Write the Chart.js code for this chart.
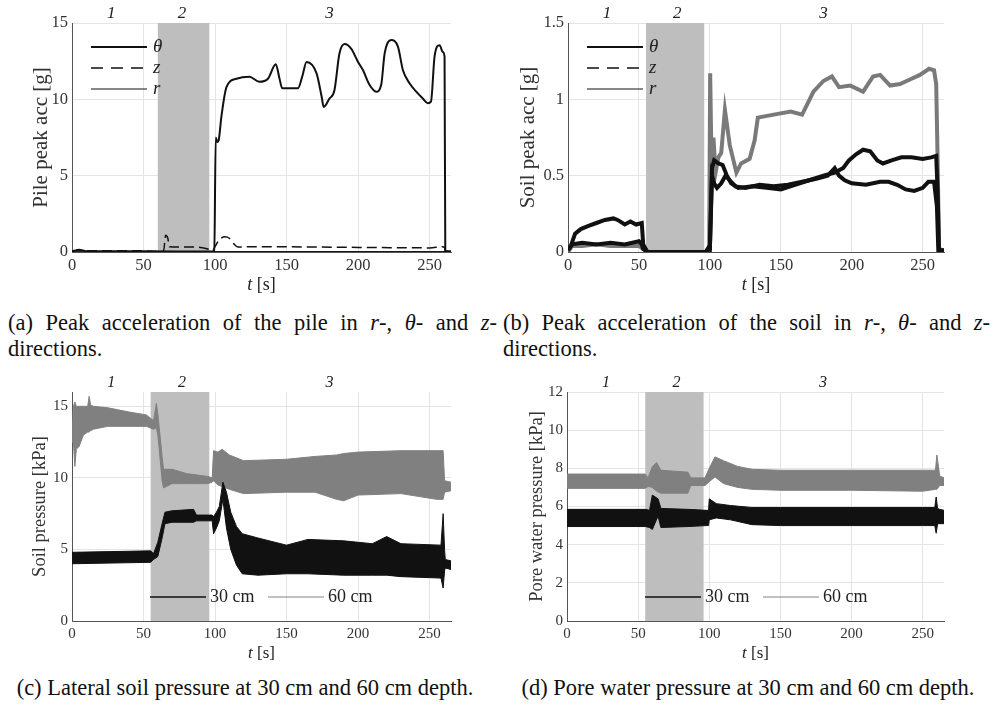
<!DOCTYPE html>
<html>
<head>
<meta charset="utf-8">
<script src="https://cdn.jsdelivr.net/npm/chart.js@4.4.1/dist/chart.umd.min.js"></script>
<style>
  body { margin: 0; background: #fff; width: 994px; height: 706px; position: relative; overflow: hidden; font-family: "Liberation Serif", "Times New Roman", Times, serif; color: #111; }
  canvas { position: absolute; }
  .cap { position: absolute; font-size: 22.5px; line-height: 26px; }
  .just { text-align: justify; text-align-last: justify; }
  .ctr { text-align: center; }
</style>
</head>
<body>
<canvas id="ca" width="497" height="300" style="left:0;top:0"></canvas>
<canvas id="cb" width="497" height="300" style="left:497px;top:0"></canvas>
<canvas id="cc" width="497" height="300" style="left:0;top:369px"></canvas>
<canvas id="cd" width="497" height="300" style="left:497px;top:369px"></canvas>

<div class="cap just" style="left:8px;top:310px;width:489px">(a) Peak acceleration of the pile in <i>r</i>-, <i>θ</i>- and <i>z</i>-</div>
<div class="cap" style="left:8px;top:336px">directions.</div>
<div class="cap just" style="left:503px;top:310px;width:487px">(b) Peak acceleration of the soil in <i>r</i>-, <i>θ</i>- and <i>z</i>-</div>
<div class="cap" style="left:503px;top:336px">directions.</div>
<div class="cap ctr" style="left:0;top:675px;width:490px">(c) Lateral soil pressure at 30 cm and 60 cm depth.</div>
<div class="cap ctr" style="left:500px;top:675px;width:496px">(d) Pore water pressure at 30 cm and 60 cm depth.</div>

<script>
// ---- common axes / annotations
const xTicks = [0, 50, 100, 150, 200, 250];
const phaseLabels = ['1', '2', '3'];
const phaseT = [27.5, 77, 180];

// ---- (a) pile peak acceleration [g]
const yTicksA = [0, 5, 10, 15];
const shadeA = [60, 96];
const pileThetaT = [0, 5, 10, 50, 98, 99.5, 100.5, 101.5, 102.5, 104.5, 108, 115, 124, 131, 137, 142.5, 145, 147, 158, 161,
  164, 171, 174.5, 176, 180, 183.5, 187, 190.6, 195.3, 200, 203.5, 208, 212.8, 216.2, 218.6, 223.2, 227.9, 231.4, 236, 240.7,
  245.3, 248.8, 251, 253.5, 257, 259.3, 260.5, 261, 262, 265];
const pileTheta = [0.05, 0.15, 0.05, 0.05, 0.03, 0.05, 7.5, 7.2, 7.3, 8.9, 10.8, 11.35, 11.48, 11.15, 11.35, 12.3, 11.4, 10.72, 10.72, 11.5,
  12.45, 11.7, 10.2, 9.5, 10.05, 10.6, 13.0, 13.62, 13.3, 12.45, 11.9, 10.95, 10.5, 10.95, 13.0, 13.88, 13.45, 11.9, 11.05, 10.5,
  10.05, 9.75, 9.85, 12.8, 13.55, 13.1, 12.8, 0.1, 0.05, 0.05];
const pileZT = [0, 50, 60, 64, 65.5, 67, 68, 85, 95, 98, 100, 103, 107, 110, 113, 116, 130, 200, 250, 259, 260.5, 261, 265];
const pileZ = [0.08, 0.08, 0.03, 0.05, 1.1, 0.9, 0.35, 0.33, 0.2, 0.05, 0.35, 0.8, 1.0, 0.9, 0.55, 0.33, 0.35, 0.3, 0.27, 0.35, 0.3, 0.05, 0.05];
const pileRT = [0, 100, 261, 265];
const pileR = [0.02, 0.03, 0.03, 0.02];

// ---- (b) soil peak acceleration [g]
const yTicksB = [0, 0.5, 1, 1.5];
const shadeB = [55, 96];
const soilThetaT = [0, 2, 5, 9, 14, 20, 26, 32, 35, 40, 44, 48, 52, 53, 56, 97, 99, 100, 101.5, 103,
  106, 109, 112, 115, 120, 130, 140, 150, 160, 170, 180, 188, 194, 198, 203, 208, 213, 218, 222, 228,
  235, 242, 250, 256, 259.5, 260.5, 261.5, 265];
const soilTheta = [0.02, 0.04, 0.12, 0.15, 0.17, 0.19, 0.21, 0.22, 0.21, 0.18, 0.2, 0.18, 0.19, 0.05, 0.0, 0.0, 0.03, 0.02, 0.55, 0.6,
  0.58, 0.57, 0.5, 0.45, 0.42, 0.43, 0.42, 0.41, 0.44, 0.47, 0.5, 0.52, 0.55, 0.6, 0.64, 0.67, 0.66, 0.6, 0.58, 0.6,
  0.62, 0.62, 0.61, 0.62, 0.63, 0.4, 0.01, 0.01];
const soilZT = [0, 3, 10, 20, 30, 40, 50, 52, 53, 56, 97, 100, 101.5, 103, 105, 108, 111, 114, 118, 125,
  135, 145, 155, 165, 175, 183, 188, 191, 195, 200, 210, 220, 226, 232, 238, 244, 250, 254, 258, 260, 261, 265];
const soilZ = [0.01, 0.05, 0.06, 0.05, 0.06, 0.05, 0.07, 0.05, 0.02, 0.0, 0.0, 0.02, 0.5, 0.45, 0.42, 0.45, 0.5, 0.47, 0.43, 0.42,
  0.44, 0.43, 0.44, 0.46, 0.48, 0.5, 0.55, 0.5, 0.47, 0.45, 0.44, 0.46, 0.46, 0.44, 0.41, 0.4, 0.42, 0.46, 0.46, 0.3, 0.01, 0.01];
const soilRT = [0, 3, 10, 20, 30, 40, 50, 53, 56, 97, 99.5, 100.2, 101.3, 102.5, 104, 106, 108, 110.6, 114, 118.7,
  122, 128, 131.5, 133.8, 145, 157, 165, 173, 180, 186, 191, 199, 208, 215, 220, 227, 234, 241, 248, 254.5,
  258, 259.5, 260.5, 261.5, 265];
const soilR = [0.0, 0.04, 0.04, 0.05, 0.04, 0.04, 0.04, 0.02, 0.0, 0.0, 0.03, 1.17, 0.49, 0.75, 0.52, 0.62, 0.65, 0.93, 0.7, 0.52,
  0.58, 0.61, 0.73, 0.88, 0.9, 0.92, 0.9, 1.05, 1.12, 1.15, 1.08, 1.09, 1.05, 1.15, 1.16, 1.09, 1.1, 1.13, 1.16, 1.2,
  1.19, 1.1, 0.6, 0.02, 0.01];

// ---- (c) lateral soil pressure [kPa], noisy signals as upper / lower envelope
const yTicksC = [0, 5, 10, 15];
const shadeC = [55, 96];
const sp30T = [0, 55, 57, 60, 63, 65, 70, 85, 87, 98, 99, 101, 103, 105.5, 108, 111, 115, 119, 130, 150,
  165, 190, 210, 220, 230, 258, 259.5, 260.5, 261, 265];
const sp30Hi = [4.8, 4.9, 4.7, 5.5, 6.8, 7.6, 7.7, 7.8, 7.4, 7.4, 7.3, 7.6, 8.0, 9.7, 9.0, 7.6, 6.6, 6.1, 5.8, 5.3,
  5.7, 5.6, 5.4, 5.9, 5.4, 5.3, 7.5, 5.0, 4.3, 4.2];
const sp30Lo = [4.0, 4.1, 4.3, 4.5, 5.8, 6.8, 6.9, 6.9, 7.0, 7.0, 6.1, 6.5, 7.0, 8.5, 6.5, 5.0, 3.9, 3.3, 3.2, 3.3,
  3.3, 3.2, 3.2, 3.2, 3.1, 3.0, 2.3, 3.5, 3.7, 3.6];
const sp60T = [0, 1, 2, 3, 5, 8, 11, 12, 13, 15, 25, 40, 52, 57, 59, 60, 61, 63, 64, 70,
  80, 95, 98, 99, 102, 105, 110, 120, 150, 170, 185, 190, 200, 230, 255, 259.5, 260.5, 265];
const sp60Hi = [12.8, 15.0, 15.3, 15.0, 15.0, 15.0, 15.0, 15.7, 15.1, 15.0, 14.9, 14.6, 14.4, 14.0, 15.2, 14.5, 13.5, 11.5, 10.6, 10.6,
  10.3, 10.1, 10.0, 11.9, 11.8, 12.0, 11.6, 11.2, 11.3, 11.5, 11.6, 11.7, 11.8, 11.9, 11.9, 11.9, 9.8, 9.7];
const sp60Lo = [12.5, 12.5, 10.8, 12.0, 12.2, 13.0, 13.2, 13.2, 13.3, 13.4, 13.6, 13.6, 13.6, 13.4, 13.5, 13.0, 12.0, 9.8, 9.3, 9.6,
  9.6, 9.6, 9.7, 9.8, 9.5, 9.4, 9.2, 8.9, 9.0, 9.0, 8.5, 8.4, 8.8, 8.9, 8.5, 8.5, 9.0, 9.1];

// ---- (d) pore water pressure [kPa]
const yTicksD = [0, 2, 4, 6, 8, 10, 12];
const shadeD = [55, 96];
const pw30T = [0, 55, 58, 60, 64, 66, 85, 98, 99.5, 100, 105, 115, 130, 150, 250, 258.5, 259.5, 260.5, 262, 265];
const pw30Hi = [5.85, 5.85, 5.8, 6.6, 6.4, 5.9, 5.85, 5.8, 5.8, 6.4, 6.15, 6.05, 5.95, 5.95, 5.95, 5.95, 6.5, 5.9, 5.85, 5.8];
const pw30Lo = [4.95, 4.95, 4.9, 4.8, 5.5, 4.9, 4.95, 5.0, 5.0, 5.3, 5.4, 5.3, 5.05, 5.0, 5.0, 5.0, 4.6, 5.1, 5.1, 5.1];
const pw60T = [0, 55, 57, 60, 63, 66, 85, 87, 97, 100, 104, 110, 120, 130, 150, 200, 250, 259, 260, 262, 265];
const pw60Hi = [7.7, 7.7, 7.5, 8.1, 8.3, 7.9, 7.8, 7.5, 7.5, 8.0, 8.6, 8.4, 8.1, 7.95, 7.9, 7.9, 7.9, 7.9, 8.7, 7.6, 7.5];
const pw60Lo = [6.95, 6.95, 7.05, 7.0, 6.8, 6.7, 6.7, 7.1, 7.1, 7.3, 7.55, 7.2, 7.0, 6.9, 6.85, 6.85, 6.8, 6.9, 6.9, 7.1, 7.1];

const BLACK = '#111111';
const GREY = '#808080';
const SERIF = '"Liberation Serif", "Times New Roman", Times, serif';
Chart.defaults.font.family = SERIF;

// top row figures were scaled larger than the bottom row
const FONT_TOP = { tick: 16.5, title: 21, xt: 18, phase: 17, leg: 19 };
const FONT_BOT = { tick: 15, title: 18.5, xt: 17, phase: 16, leg: 18 };

const pts = (t, v) => t.map((x, i) => ({ x: x, y: v[i] }));

function line(label, t, v, color, width, dash, smooth) {
  return { label: label, data: pts(t, v), borderColor: color, borderWidth: width, borderDash: dash || [], fill: false,
    cubicInterpolationMode: smooth ? 'monotone' : 'default' };
}
// upper + lower envelope, filled in between
function band(label, t, hi, lo, color) {
  return [
    { label: label, data: pts(t, hi), borderColor: color, backgroundColor: color, borderWidth: 1, fill: '+1' },
    { label: '', data: pts(t, lo), borderColor: color, borderWidth: 1, fill: false }
  ];
}

const decor = {
  id: 'decor',
  beforeDatasetsDraw(chart, args, o) {
    const { ctx, chartArea: a, scales: { x } } = chart;
    const x0 = x.getPixelForValue(o.shade[0]);
    const x1 = x.getPixelForValue(o.shade[1]);
    ctx.save();
    ctx.fillStyle = '#bebebe';
    ctx.fillRect(x0, a.top, x1 - x0, a.bottom - a.top);
    ctx.restore();
  },
  afterDraw(chart, args, o) {
    const { ctx, chartArea: a, scales: { x } } = chart;
    const f = o.fs;
    ctx.save();
    ctx.fillStyle = '#222';
    // phase numbers on top
    ctx.font = 'italic ' + f.phase + 'px ' + SERIF;
    ctx.textAlign = 'center';
    ctx.textBaseline = 'middle';
    phaseLabels.forEach((s, i) => ctx.fillText(s, x.getPixelForValue(phaseT[i]), a.top - 9));

    // x title  "t [s]"
    const cx = (a.left + a.right) / 2, ty = a.bottom + 33;
    ctx.font = 'italic ' + f.xt + 'px ' + SERIF;
    const w1 = ctx.measureText('t').width;
    ctx.font = f.xt + 'px ' + SERIF;
    const w2 = ctx.measureText(' [s]').width;
    ctx.textAlign = 'left';
    ctx.font = 'italic ' + f.xt + 'px ' + SERIF;
    ctx.fillText('t', cx - (w1 + w2) / 2, ty);
    ctx.font = f.xt + 'px ' + SERIF;
    ctx.fillText(' [s]', cx - (w1 + w2) / 2 + w1, ty);

    // legend
    const L = o.legend;
    ctx.textAlign = 'left';
    L.items.forEach((it, i) => {
      let x0, y;
      if (L.inside) { x0 = a.left + 19; y = a.top + 24 + i * 21; }
      else { x0 = a.left + 78 + i * 118; y = a.bottom - 24; }
      ctx.strokeStyle = it.color;
      ctx.lineWidth = it.width;
      ctx.setLineDash(it.dash || []);
      ctx.beginPath();
      ctx.moveTo(x0, y);
      ctx.lineTo(x0 + 56, y);
      ctx.stroke();
      ctx.setLineDash([]);
      ctx.font = (L.inside ? 'italic ' : '') + f.leg + 'px ' + SERIF;
      ctx.fillStyle = '#222';
      ctx.fillText(it.label, x0 + (L.inside ? 62 : 60), y);
    });
    ctx.restore();
  }
};

function makeChart(id, datasets, o) {
  const tickFont = { family: SERIF, size: o.fs.tick };
  return new Chart(document.getElementById(id), {
    type: 'line',
    data: { datasets: datasets },
    options: {
      responsive: false,
      animation: false,
      events: [],
      layout: { padding: { left: o.padL, right: o.padR, top: 23, bottom: 0 } },
      elements: { point: { radius: 0 }, line: { tension: 0 } },
      plugins: {
        legend: { display: false },
        tooltip: { enabled: false },
        decor: { shade: o.shade, legend: o.legend, fs: o.fs }
      },
      scales: {
        x: {
          type: 'linear', min: 0, max: 265,
          afterBuildTicks: s => { s.ticks = xTicks.map(v => ({ value: v })); },
          afterFit: s => { s.height = 48; },
          grid: { color: '#e4e4e4', drawTicks: false },
          border: { color: '#555' },
          ticks: { padding: 4, font: tickFont, color: '#333', maxRotation: 0, autoSkip: false, callback: v => String(v) }
        },
        y: {
          type: 'linear', min: 0, max: o.yMax,
          afterBuildTicks: s => { s.ticks = o.yTicks.map(v => ({ value: v })); },
          afterFit: s => { s.width = o.yW; },
          grid: { color: '#e4e4e4', drawTicks: false },
          border: { color: '#555' },
          ticks: { padding: 4, font: tickFont, color: '#333', autoSkip: false, callback: v => String(v) },
          title: { display: true, text: o.yTitle, color: '#333', font: { family: SERIF, size: o.fs.title }, padding: { top: o.tPad, bottom: 0 } }
        }
      }
    },
    plugins: [decor]
  });
}

makeChart('ca', [
  line('θ', pileThetaT, pileTheta, BLACK, 2, null, true),
  line('z', pileZT, pileZ, BLACK, 1.5, [10, 5], true),
  line('r', pileRT, pileR, BLACK, 1)
], {
  padL: 26, tPad: 2.4, yW: 46, padR: 46, yMax: 15, yTicks: yTicksA, shade: shadeA, yTitle: 'Pile peak acc [g]', fs: FONT_TOP,
  legend: { inside: true, items: [
    { label: 'θ', color: BLACK, width: 2 },
    { label: 'z', color: BLACK, width: 1.5, dash: [12, 8] },
    { label: 'r', color: BLACK, width: 1 }
  ] }
});

makeChart('cb', [
  line('θ', soilThetaT, soilTheta, BLACK, 4),
  line('z', soilZT, soilZ, BLACK, 4),
  line('r', soilRT, soilR, '#7a7a7a', 4)
], {
  padL: 18, tPad: 1, yW: 53, padR: 50, yMax: 1.5, yTicks: yTicksB, shade: shadeB, yTitle: 'Soil peak acc [g]', fs: FONT_TOP,
  legend: { inside: true, items: [
    { label: 'θ', color: BLACK, width: 2 },
    { label: 'z', color: BLACK, width: 1.5, dash: [12, 8] },
    { label: 'r', color: BLACK, width: 1 }
  ] }
});

makeChart('cc', [
  ...band('30 cm', sp30T, sp30Hi, sp30Lo, BLACK),
  ...band('60 cm', sp60T, sp60Hi, sp60Lo, GREY)
], {
  padL: 27, tPad: 2.5, yW: 45, padR: 46, yMax: 16, yTicks: yTicksC, shade: shadeC, yTitle: 'Soil pressure [kPa]', fs: FONT_BOT,
  legend: { inside: false, items: [
    { label: '30 cm', color: BLACK, width: 1.5 },
    { label: '60 cm', color: GREY, width: 1 }
  ] }
});

makeChart('cd', [
  ...band('30 cm', pw30T, pw30Hi, pw30Lo, BLACK),
  ...band('60 cm', pw60T, pw60Hi, pw60Lo, GREY)
], {
  padL: 26, tPad: 3, yW: 44, padR: 50, yMax: 12, yTicks: yTicksD, shade: shadeD, yTitle: 'Pore water pressure [kPa]', fs: FONT_BOT,
  legend: { inside: false, items: [
    { label: '30 cm', color: BLACK, width: 1.5 },
    { label: '60 cm', color: GREY, width: 1 }
  ] }
});
</script>
</body>
</html>
